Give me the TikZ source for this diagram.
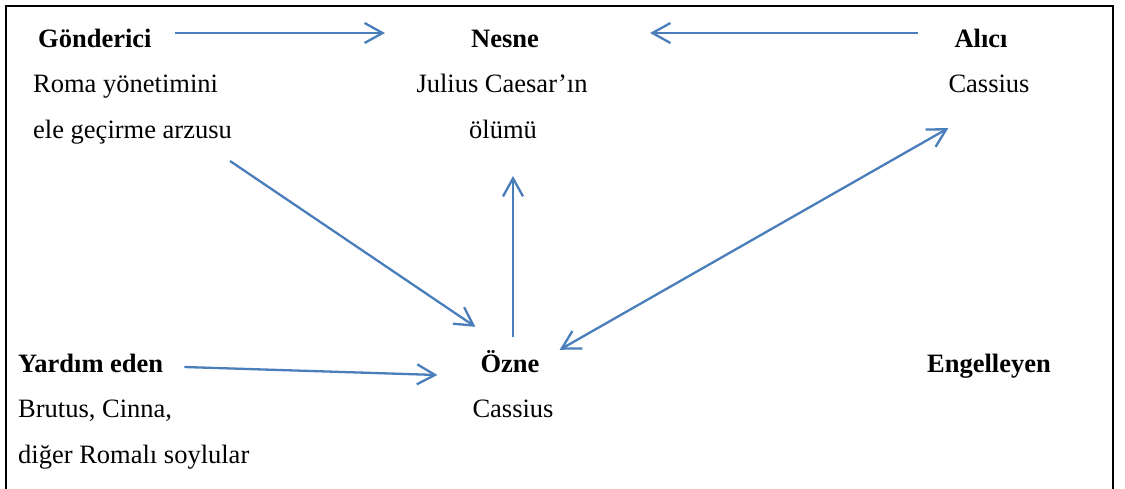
\documentclass[tikz,border=0pt]{standalone}
\usepackage{fontspec}
\setmainfont{Liberation Serif}
\usetikzlibrary{positioning, arrows.meta}
\definecolor{arrowblue}{RGB}{74,126,187}

\begin{document}
\begin{tikzpicture}[
        x=1pt, y=-1pt,
        node distance=22.5pt,
        every node/.style={inner sep=0pt, text height=18pt, text depth=5pt, font=\fontsize{26.5}{32}\selectfont},
        head/.style={font=\fontsize{26.5}{32}\selectfont\bfseries},
        barb/.tip={Straight Barb[length=18pt, width=20pt, line width=2.3pt]},
        link/.style={draw=arrowblue, line width=2.3pt, -barb}
        ]
        \useasboundingbox (0,0) rectangle (1125,488);
        \draw[line width=2.5pt] (6,530) -- (6,6) -- (1113,6) -- (1113,530);

        % Nodes
        \node (sender) [head, anchor=base west] at (38,47) {Gönderici};
        \node (wish1) [below=of sender.south west, anchor=north west, xshift=-5pt] {Roma yönetimini};
        \node (wish2) [below=of wish1.south west, anchor=north west] {ele geçirme arzusu};

        \node (object) [head, anchor=base] at (505,47) {Nesne};
        \node (death1) [below=of object, xshift=-3pt] {Julius Caesar’ın};
        \node (death2) [below=of death1, xshift=1pt] {ölümü};

        \node (receiver) [head, anchor=base] at (981,47) {Alıcı};
        \node (cassius1) [below=of receiver, xshift=8pt] {Cassius};

        \node (helper) [head, anchor=base west] at (18,372) {Yardım eden};
        \node (helpers1) [below=of helper.south west, anchor=north west] {Brutus, Cinna,};
        \node (helpers2) [below=of helpers1.south west, anchor=north west] {diğer Romalı soylular};

        \node (subject) [head, anchor=base] at (510,372) {Özne};
        \node (cassius2) [below=of subject, xshift=3pt] {Cassius};

        \node (opponent) [head, anchor=base] at (989,372) {Engelleyen};

        % Arrows
        \draw[link, shorten <=23pt, shorten >=86pt] ([yshift=7.5pt]sender.east) -- ([yshift=7.5pt]object.west);
        \draw[link, shorten <=36pt, shorten >=111pt] ([yshift=7.5pt]receiver.west) -- ([yshift=7.5pt]object.east);
        \draw[link] ([xshift=-2pt, yshift=-17pt]wish2.south east) -- ([xshift=-5pt, yshift=27pt]subject.north west);
        \draw[link] ([xshift=3pt, yshift=17pt]subject.north) -- ([xshift=10pt, yshift=-32pt]death2.south);
        \draw[link, barb-barb] ([xshift=20pt, yshift=4pt]subject.north east) -- ([yshift=-30pt]cassius1.south west);
        \draw[link] ([xshift=21pt, yshift=-1.5pt]helper.east) -- ([xshift=-43pt, yshift=-9.5pt]subject.west);
    \end{tikzpicture}
\end{document}
